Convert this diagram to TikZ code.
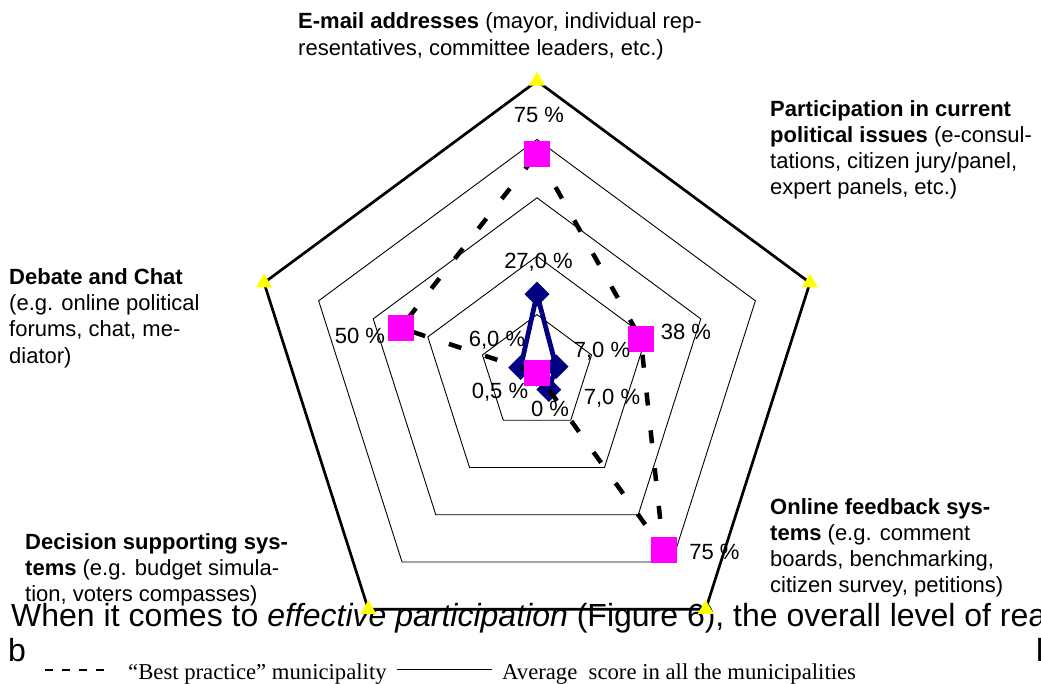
\documentclass[tikz,border=0pt]{standalone}
\usepackage{fontspec}
\setmainfont{Liberation Sans}
\newfontfamily\legfont{Liberation Serif}
\usetikzlibrary{shapes.geometric}
\definecolor{navyc}{RGB}{0,0,128}
\definecolor{magc}{RGB}{255,0,255}
\definecolor{yelc}{RGB}{255,255,0}
\begin{document}
\begin{tikzpicture}[x=1pt,y=-1pt,
  catlab/.style={anchor=base west,inner sep=0pt,font=\fontsize{22}{26}\selectfont},
  vallab/.style={anchor=base,inner sep=0pt,font=\fontsize{22}{26}\selectfont},
  bodytxt/.style={anchor=base west,inner sep=0pt,font=\fontsize{32}{39}\selectfont},
  legtxt/.style={anchor=base west,inner sep=0pt,font=\legfont\fontsize{22.7}{26}\selectfont},
  gridring/.style={draw=black,line width=0.9pt,line join=miter},
  outerring/.style={draw=black,line width=2.7pt,line join=miter},
  bestline/.style={draw=black,line width=4.5pt,dash pattern=on 13pt off 25pt},
  avgline/.style={draw=navyc,line width=4.8pt,line join=round},
  sqmark/.style={rectangle,fill=magc,minimum size=26pt,inner sep=0pt},
  dmmark/.style={diamond,fill=navyc,minimum size=25pt,inner sep=0pt},
  trimark/.style={regular polygon,regular polygon sides=3,fill=yelc,minimum size=18.5pt,inner sep=0pt},
  legsolid/.style={draw=black,line width=1pt},
  legdash/.style={draw=black,line width=1.2pt,dash pattern=on 8pt off 9pt}
]
\useasboundingbox (0,0) rectangle (1041,684);
\clip (0,0) rectangle (1041,684);
\fill[white] (0,0) rectangle (1041,684);

% body text behind the chart
\node[bodytxt] (body1) at (11,626) {When it comes to \textit{effective participation} (Figure 6), the overall level of rea};
\node[bodytxt] (body2b) at (8,661) {b};
\node[bodytxt] (body2l) at (1036,661) {l};

% coordinates of rings
\foreach \r [count=\i] in {0.2,0.4,0.6,0.8,1.0} {
  \foreach \k in {0,...,4}
    \coordinate (r\i-\k) at ({537+287*\r*sin(72*\k)},{373-292*\r*cos(72*\k)});
}
% data points
\foreach \k/\v in {0/0.75,1/0.38,2/0.75,3/0.0,4/0.5}
  \coordinate (b\k) at ({537+287*\v*sin(72*\k)},{373-292*\v*cos(72*\k)});
\foreach \k/\v in {0/0.27,1/0.07,2/0.07,3/0.005,4/0.06}
  \coordinate (a\k) at ({537+287*\v*sin(72*\k)},{373-292*\v*cos(72*\k)});

% grid rings
\foreach \i in {1,2,3,4}
  \draw[gridring] (r\i-0) -- (r\i-1) -- (r\i-2) -- (r\i-3) -- (r\i-4) -- cycle;
\draw[outerring] (r5-0) -- (r5-1) -- (r5-2) -- (r5-3) -- (r5-4) -- cycle;

% average series
\draw[avgline] (a0) -- (a1) -- (a2) -- (a3) -- (a4) -- cycle;
\foreach \k in {0,...,4} \node[dmmark] (da\k) at (a\k) {};

% best practice series
\draw[bestline] (b0) -- (b1) -- (b2) -- (b3) -- (b4) -- cycle;
\foreach \k in {0,...,4} \node[sqmark] (sb\k) at (b\k) {};

% outer markers
\foreach \k in {0,...,4} \node[trimark] (tr\k) at (r5-\k) {};

% value labels
\node[vallab] (v1) at (539,123) {75 \%};
\node[vallab] (v2) at (538.5,269) {27,0 \%};
\node[vallab] (v3) at (360,344) {50 \%};
\node[vallab] (v4) at (497,347) {6,0 \%};
\node[vallab] (v5) at (602,357) {7,0 \%};
\node[vallab] (v6) at (686,340) {38 \%};
\node[vallab] (v7) at (500,399) {0,5 \%};
\node[vallab] (v8) at (550,416) {0 \%};
\node[vallab] (v9) at (612,404) {7,0 \%};
\node[vallab] (v10) at (714.5,559) {75 \%};

% category labels
\node[catlab] (c0a) at (298,29) {\textbf{E-mail addresses} (mayor, individual rep-};
\node[catlab] (c0b) at (298,55.5) {resentatives, committee leaders, etc.)};

\node[catlab] (c1a) at (770,117) {\textbf{Participation in current}};
\node[catlab] (c1b) at (770,143) {\textbf{political issues} (e-consul-};
\node[catlab] (c1c) at (770,169) {tations, citizen jury/panel,};
\node[catlab] (c1d) at (770,195) {expert panels, etc.)};

\node[catlab] (c2a) at (770,514) {\textbf{Online feedback sys-}};
\node[catlab] (c2b) at (770,540) {\textbf{tems} (e.g. comment};
\node[catlab] (c2c) at (770,566) {boards, benchmarking,};
\node[catlab] (c2d) at (770,592) {citizen survey, petitions)};

\node[catlab] (c3a) at (25,549) {\textbf{Decision supporting sys-}};
\node[catlab] (c3b) at (25,575) {\textbf{tems} (e.g. budget simula-};
\node[catlab] (c3c) at (25,601) {tion, voters compasses)};

\node[catlab] (c4a) at (9,285) {\textbf{Debate and Chat}};
\node[catlab] (c4b) at (9,311) {(e.g. online political};
\node[catlab] (c4c) at (9,337) {forums, chat, me-};
\node[catlab] (c4d) at (9,363) {diator)};

% legend box covering the second text line
\node[fill=white,inner sep=0pt,minimum width=1009pt,minimum height=56pt,anchor=north west] (legbox) at (28,634) {};
\coordinate (ld1) at (45,670);
\coordinate (ld2) at (104,670);
\draw[legdash] (ld1) -- (ld2);
\node[legtxt] (lt1) at (128,679) {“Best practice” municipality};
\coordinate (ls1) at (397,669);
\coordinate (ls2) at (492,669);
\draw[legsolid] (ls1) -- (ls2);
\node[legtxt] (lt2) at (502,679) {Average\ \ score in all the municipalities};
\end{tikzpicture}
\end{document}
